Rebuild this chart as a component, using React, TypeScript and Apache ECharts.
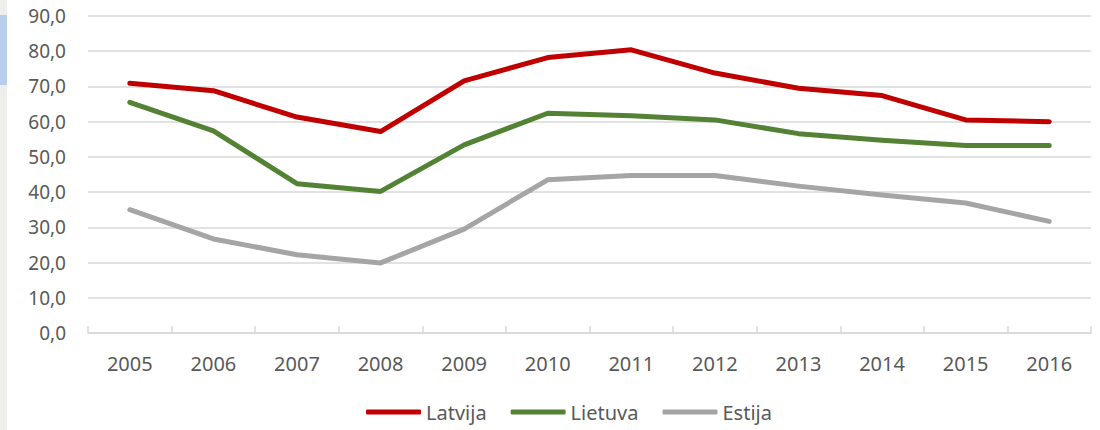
import React, { useEffect, useRef } from "react";
import * as echarts from "echarts";

const years = ["2005", "2006", "2007", "2008", "2009", "2010", "2011", "2012", "2013", "2014", "2015", "2016"];
const latvija = [70.9, 68.8, 61.3, 57.2, 71.6, 78.2, 80.4, 73.8, 69.5, 67.4, 60.5, 60.0];
const lietuva = [65.5, 57.4, 42.4, 40.2, 53.4, 62.4, 61.7, 60.5, 56.6, 54.7, 53.2, 53.2];
const estija = [35.0, 26.7, 22.2, 19.9, 29.5, 43.5, 44.7, 44.7, 41.7, 39.2, 36.9, 31.7];
const seriesNames = ["Latvija", "Lietuva", "Estija"];
const colors = ["#C00000", "#548235", "#A5A5A5"];

export default function App() {
  const ref = useRef<HTMLDivElement>(null);
  useEffect(() => {
    if (!ref.current) return;
    const chart = echarts.init(ref.current, undefined, { renderer: "svg" });
    const font = "'Noto Sans', 'Open Sans', sans-serif";
    const data = [latvija, lietuva, estija];
    chart.setOption({
      animation: false,
      backgroundColor: "#ffffff",
      textStyle: { fontFamily: font },
      graphic: [
        { type: "rect", left: 0, top: 0, shape: { width: 7, height: 430 }, style: { fill: "#EEEEEA" }, silent: true },
        { type: "rect", left: 0, top: 15, shape: { width: 7, height: 70 }, style: { fill: "#B7CDEB" }, silent: true },
      ],
      grid: { left: 88, right: 9, top: 16, bottom: 97, containLabel: false },
      legend: {
        bottom: 3,
        left: 361,
        itemWidth: 55,
        itemHeight: 5,
        itemGap: 24,
        icon: "roundRect",
        textStyle: { color: "#595959", fontSize: 20, fontFamily: font },
        data: seriesNames,
      },
      xAxis: {
        type: "category",
        data: years,
        boundaryGap: true,
        axisLine: { lineStyle: { color: "#D9D9D9", width: 1.5 } },
        axisTick: { show: true, inside: true, length: 7, alignWithLabel: false, lineStyle: { color: "#D9D9D9", width: 1.5 } },
        axisLabel: { color: "#595959", fontSize: 20, margin: 20, fontFamily: font },
      },
      yAxis: {
        type: "value",
        min: 0,
        max: 90,
        interval: 10,
        axisLine: { show: false },
        axisTick: { show: false },
        splitLine: { lineStyle: { color: "#D9D9D9", width: 1.5 } },
        axisLabel: {
          color: "#595959",
          fontSize: 19,
          margin: 22,
          fontFamily: font,
          formatter: (v: number) => v.toFixed(1).replace(".", ","),
        },
      },
      series: data.map((d, i) => ({
        name: seriesNames[i],
        type: "line",
        data: d,
        symbol: "none",
        itemStyle: { color: colors[i] },
        lineStyle: { color: colors[i], width: 5, cap: "round", join: "round" },
      })),
    });
    return () => chart.dispose();
  }, []);
  return <div ref={ref} style={{ position: "absolute", left: 0, top: 0, width: 1100, height: 430 }} />;
}
